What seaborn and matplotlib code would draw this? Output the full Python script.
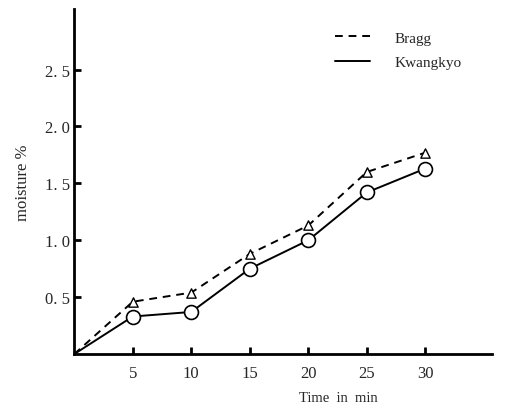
# Moisture uptake over time for two soybean varieties (scanned figure recreation)

import pandas as pd
import seaborn as sns
import matplotlib.pyplot as plt
from matplotlib.lines import Line2D

# --- Data ---
time_min = [0, 5, 10, 15, 20, 25, 30]
bragg = [0.0, 0.46, 0.54, 0.88, 1.13, 1.60, 1.77]
kwangkyo = [0.0, 0.33, 0.37, 0.75, 1.00, 1.42, 1.63]
x_ticks = [5, 10, 15, 20, 25, 30]
y_ticks = [0.5, 1.0, 1.5, 2.0, 2.5]

df = pd.concat([
    pd.DataFrame({'time': time_min, 'moisture': bragg, 'variety': 'Bragg'}),
    pd.DataFrame({'time': time_min, 'moisture': kwangkyo, 'variety': 'Kwangkyo'}),
])

sns.set_style("ticks")
plt.rcParams['font.family'] = ['Liberation Serif', 'DejaVu Serif']

fig = plt.figure(figsize=(5.12, 4.10), dpi=100)
ax = fig.add_axes([0.145, 0.134, 0.816, 0.841])

# lines (through the origin, no marker there)
sns.lineplot(data=df, x='time', y='moisture', style='variety',
             dashes={'Bragg': (4, 3), 'Kwangkyo': ''},
             color='black', linewidth=1.4, legend=False, ax=ax)

pts = df[df['time'] > 0]
sns.scatterplot(data=pts[pts['variety'] == 'Bragg'], x='time', y='moisture',
                marker='^', s=45, facecolor='white', edgecolor='black',
                linewidth=1.0, zorder=3, ax=ax)
sns.scatterplot(data=pts[pts['variety'] == 'Kwangkyo'], x='time', y='moisture',
                marker='o', s=100, facecolor='white', edgecolor='black',
                linewidth=1.2, zorder=3, ax=ax)

ax.set_xlim(0, 35.7)
ax.set_ylim(0, 3.03)
ax.set_xticks(x_ticks)
ax.set_yticks(y_ticks)
ax.set_xticklabels([str(t) for t in x_ticks], fontsize=12)
ax.set_yticklabels([f'{v:.1f}'.replace('.', '. ') for v in y_ticks], fontsize=12)
ax.tick_params(direction='in', length=5, width=2, color='black')
ax.tick_params(axis='x', pad=8)
ax.tick_params(axis='y', pad=3)

sns.despine(ax=ax)
for side in ['left', 'bottom']:
    ax.spines[side].set_linewidth(2)
    ax.spines[side].set_color('black')

ax.set_xlabel('')
ax.set_ylabel('moisture %', fontsize=12, labelpad=10)
fig.text(0.66, 0.028, 'Time  in  min', fontsize=10.5, ha='center', va='center')

handles = [Line2D([], [], color='black', linestyle=(0, (4, 3)), linewidth=1.4),
           Line2D([], [], color='black', linestyle='-', linewidth=1.4)]
fig.legend(handles, ['Bragg', 'Kwangkyo'], loc='upper left',
           bbox_to_anchor=(0.654, 0.922), frameon=False, fontsize=11,
           handlelength=2.3, handletextpad=1.6, labelspacing=0.7,
           borderpad=0, borderaxespad=0)

plt.savefig('out.png', dpi=100)
